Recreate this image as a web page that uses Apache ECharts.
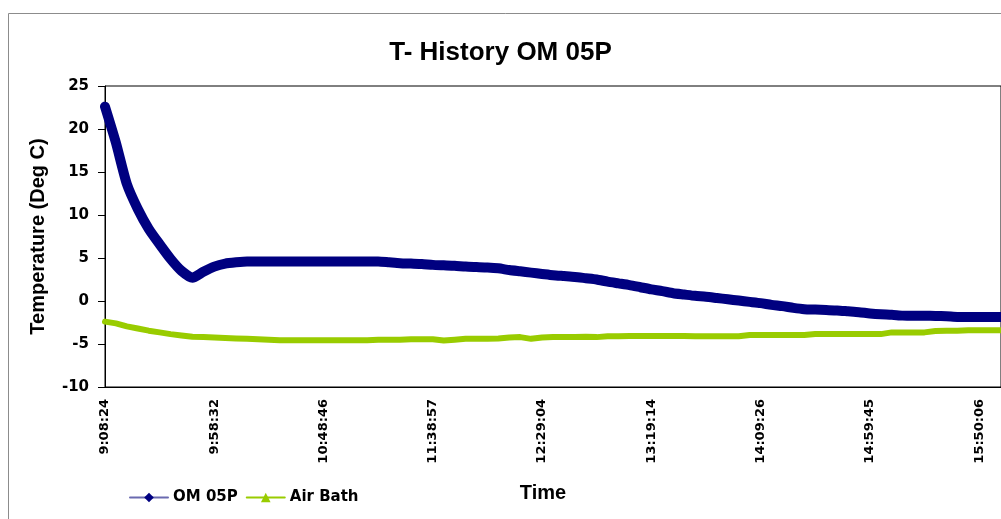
<!DOCTYPE html>
<html>
<head>
<meta charset="utf-8">
<script src="https://cdn.jsdelivr.net/npm/echarts@6/dist/echarts.min.js"></script>
<style>
html,body{margin:0;padding:0;background:#fff;}
#chart{width:1001px;height:519px;}
</style>
</head>
<body>
<div id="chart"></div>
<script>
// Tick labels shown every 10 samples on the category axis
const tickLabels = ['9:08:24','9:58:32','10:48:46','11:38:57','12:29:04','13:19:14','14:09:26','14:59:45','15:50:06'];
const labelEvery = 10;

// OM 05P temperature (Deg C), one reading per category
const omValues = [
  22.6, 18.4, 13.6, 10.7, 8.4, 6.6, 4.9, 3.5, 2.7, 3.4,
  4.0, 4.35, 4.5, 4.6, 4.6, 4.6, 4.6, 4.6, 4.6, 4.6,
  4.6, 4.6, 4.6, 4.6, 4.6, 4.6, 4.5, 4.4, 4.35, 4.3,
  4.2, 4.15, 4.1, 4.0, 3.95, 3.9, 3.8, 3.6, 3.45, 3.3,
  3.15, 3.0, 2.9, 2.8, 2.65, 2.5, 2.25, 2.05, 1.85, 1.6,
  1.35, 1.15, 0.9, 0.75, 0.6, 0.5, 0.35, 0.2, 0.05, -0.1,
  -0.25, -0.45, -0.6, -0.8, -0.95, -1.0, -1.05, -1.1, -1.2, -1.3,
  -1.45, -1.55, -1.6, -1.7, -1.72, -1.72, -1.74, -1.78, -1.85, -1.86,
  -1.86, -1.87, -1.87
];

// Air Bath temperature (Deg C)
const airValues = [
  -2.4, -2.6, -2.95, -3.2, -3.45, -3.65, -3.85, -4.0, -4.15, -4.2,
  -4.25, -4.3, -4.35, -4.4, -4.45, -4.5, -4.55, -4.55, -4.55, -4.55,
  -4.55, -4.55, -4.55, -4.55, -4.55, -4.5, -4.5, -4.5, -4.45, -4.45,
  -4.45, -4.6, -4.5, -4.4, -4.4, -4.4, -4.35, -4.25, -4.2, -4.4,
  -4.25, -4.2, -4.2, -4.2, -4.15, -4.2, -4.1, -4.1, -4.07, -4.07,
  -4.07, -4.07, -4.07, -4.07, -4.1, -4.1, -4.1, -4.1, -4.1, -3.95,
  -3.95, -3.95, -3.95, -3.95, -3.95, -3.85, -3.85, -3.85, -3.85, -3.85,
  -3.85, -3.85, -3.65, -3.65, -3.65, -3.65, -3.5, -3.45, -3.45, -3.4,
  -3.4, -3.4, -3.4
];

const yMin = -10, yMax = 25, yStep = 5;
const categories = omValues.map((_, i) => String(i));

const chart = echarts.init(document.getElementById('chart'), null, {renderer: 'canvas'});
chart.setOption({
  backgroundColor: '#ffffff',
  animation: false,
  graphic: [{
    type: 'rect',
    shape: {x: 8.5, y: 13.5, width: 1200, height: 700},
    style: {fill: 'none', stroke: '#8c8c8c', lineWidth: 1},
    silent: true, z: -1
  }],
  title: {
    text: 'T- History OM 05P',
    left: 'center',
    top: 35,
    textStyle: {fontFamily: 'Liberation Sans', fontWeight: 'bold', fontSize: 26, color: '#000'}
  },
  legend: {
    left: 124,
    top: 485,
    itemWidth: 38,
    itemHeight: 12,
    itemGap: 8,
    textStyle: {fontFamily: 'DejaVu Sans', fontWeight: 'bold', fontSize: 15, color: '#000'},
    data: [
      {name: 'OM 05P', itemStyle: {color: '#000080'}, lineStyle: {width: 2, color: '#6a6ab0'}},
      {name: 'Air Bath', itemStyle: {color: '#99cc00'}, lineStyle: {width: 2, color: '#99cc00'}}
    ]
  },
  grid: {left: 105, top: 86, right: -6, bottom: 132, show: true, borderColor: '#000', borderWidth: 1, backgroundColor: 'transparent'},
  xAxis: {
    type: 'category',
    data: categories,
    boundaryGap: false,
    name: 'Time',
    nameLocation: 'middle',
    nameGap: 96,
    nameTextStyle: {fontFamily: 'Liberation Sans', fontWeight: 'bold', fontSize: 20, color: '#000', padding: [0, 20, 0, 0]},
    axisLine: {onZero: false, lineStyle: {color: '#000', width: 1}},
    axisTick: {show: false},
    axisLabel: {
      interval: labelEvery - 1,
      rotate: 90,
      margin: 12,
      fontFamily: 'DejaVu Sans', fontWeight: 'bold', fontSize: 13, color: '#000',
      formatter: (v, idx) => (idx % labelEvery === 0 && tickLabels[idx / labelEvery]) ? tickLabels[idx / labelEvery] : ''
    },
    splitLine: {show: false}
  },
  yAxis: {
    type: 'value',
    min: yMin, max: yMax, interval: yStep,
    name: 'Temperature (Deg C)',
    nameLocation: 'middle',
    nameRotate: 90,
    nameGap: 57,
    nameTextStyle: {fontFamily: 'Liberation Sans', fontWeight: 'bold', fontSize: 20, color: '#000'},
    axisLine: {show: true, lineStyle: {color: '#000', width: 1}},
    axisTick: {show: true, inside: false, length: 7, lineStyle: {color: '#000'}},
    axisLabel: {margin: 16, fontFamily: 'DejaVu Sans', fontWeight: 'bold', fontSize: 15, color: '#000'},
    splitLine: {show: false}
  },
  series: [
    {
      name: 'OM 05P', type: 'line', data: omValues,
      symbol: 'diamond', showSymbol: false, clip: false, smooth: 0.2,
      itemStyle: {color: '#000080'},
      lineStyle: {color: '#000080', width: 10, join: 'round', cap: 'round'},
      z: 3
    },
    {
      name: 'Air Bath', type: 'line', data: airValues,
      symbol: 'triangle', showSymbol: false, clip: false,
      itemStyle: {color: '#99cc00'},
      lineStyle: {color: '#99cc00', width: 6, join: 'round', cap: 'round'},
      z: 2
    }
  ]
});
</script>
</body>
</html>
